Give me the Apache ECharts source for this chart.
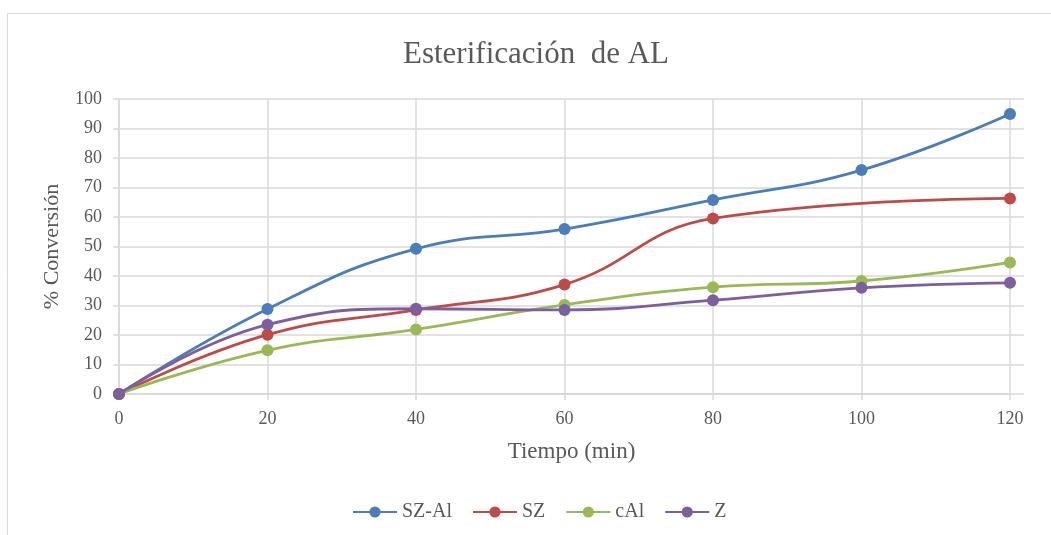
<!DOCTYPE html>
<html>
<head>
<meta charset="utf-8">
<script src="https://cdn.jsdelivr.net/npm/echarts@6/dist/echarts.min.js"></script>
<style>
html,body{margin:0;padding:0;background:#fff;}
#chart{width:1051px;height:535px;}
</style>
</head>
<body>
<div id="chart"></div>
<script>
var titleText = 'Esterificación  de AL';
var xName = 'Tiempo (min)';
var yName = '% Conversión';
var seriesNames = ['SZ-Al', 'SZ', 'cAl', 'Z'];
var colors = ['#4A7EBB', '#BE4B48', '#98B954', '#7D5FA0'];
var xTicks = [0, 20, 40, 60, 80, 100, 120];
var yTicks = [0, 10, 20, 30, 40, 50, 60, 70, 80, 90, 100];

var szAl = [[0, 0], [20, 28.8], [40, 49.2], [60, 55.9], [80, 65.8], [100, 75.9], [120, 94.9]];
var sz   = [[0, 0], [20, 20.1], [40, 28.5], [60, 37.1], [80, 59.5], [120, 66.3]];
var cAl  = [[0, 0], [20, 14.8], [40, 21.9], [60, 30.2], [80, 36.2], [100, 38.3], [120, 44.6]];
var z    = [[0, 0], [20, 23.5], [40, 28.9], [60, 28.5], [80, 31.8], [100, 36.0], [120, 37.7]];
var allData = [szAl, sz, cAl, z];

var serifFont = '"Liberation Serif", "Times New Roman", serif';
var gridColor = '#D9D9D9';
var textColor = '#595959';

var chart = echarts.init(document.getElementById('chart'));
var option = {
  backgroundColor: '#fff',
  animation: false,
  color: colors,
  graphic: [{
    type: 'rect',
    shape: {x: 7.5, y: 13.5, width: 1100, height: 600},
    style: {fill: 'none', stroke: gridColor, lineWidth: 1},
    silent: true, z: -10
  }],
  title: {
    text: titleText,
    left: 398,
    top: 34,
    textStyle: {fontFamily: serifFont, fontSize: 31, fontWeight: 'normal', color: textColor}
  },
  legend: {
    data: seriesNames,
    bottom: 8,
    left: 347,
    itemWidth: 44,
    itemHeight: 14,
    itemGap: 20,
    textStyle: {fontFamily: serifFont, fontSize: 20, color: textColor}
  },
  grid: [
    {left: 119, right: 41, top: 99, bottom: 141},
    {left: 119, right: 27, top: 99, bottom: 141}
  ],
  xAxis: [{
    type: 'value', gridIndex: 0,
    min: xTicks[0], max: xTicks[xTicks.length - 1], interval: 20,
    name: xName, nameLocation: 'middle', nameGap: 46,
    nameTextStyle: {fontFamily: serifFont, fontSize: 23, color: textColor, padding: [0, 0, 0, 14]},
    axisLine: {show: true, lineStyle: {color: gridColor, width: 1.5}},
    axisTick: {show: true, inside: false, length: 6, lineStyle: {color: gridColor, width: 1.5}},
    axisLabel: {fontFamily: serifFont, fontSize: 18, color: textColor, margin: 16},
    splitLine: {show: true, lineStyle: {color: gridColor, width: 1.5}}
  }, {
    type: 'value', gridIndex: 1, min: 0, max: 1, show: false
  }],
  yAxis: [{
    type: 'value', gridIndex: 0,
    min: yTicks[0], max: yTicks[yTicks.length - 1], interval: 10,
    show: false
  }, {
    type: 'value', gridIndex: 1,
    min: yTicks[0], max: yTicks[yTicks.length - 1], interval: 10,
    name: yName, nameLocation: 'middle', nameGap: 56,
    nameTextStyle: {fontFamily: serifFont, fontSize: 22, color: textColor},
    axisLine: {show: true, lineStyle: {color: gridColor, width: 1.5}},
    axisTick: {show: true, inside: false, length: 6, lineStyle: {color: gridColor, width: 1.5}},
    axisLabel: {fontFamily: serifFont, fontSize: 18, color: textColor, margin: 17},
    splitLine: {show: true, lineStyle: {color: gridColor, width: 1.5}}
  }],
  series: seriesNames.map(function (n, i) {
    return {
      name: n,
      type: 'line',
      xAxisIndex: 0,
      yAxisIndex: 0,
      data: allData[i],
      smooth: 0.45,
      symbol: 'circle',
      symbolSize: 12,
      lineStyle: {width: 2.8, color: colors[i]},
      itemStyle: {color: colors[i]},
      z: 10 + i
    };
  })
};
chart.setOption(option);
</script>
</body>
</html>
